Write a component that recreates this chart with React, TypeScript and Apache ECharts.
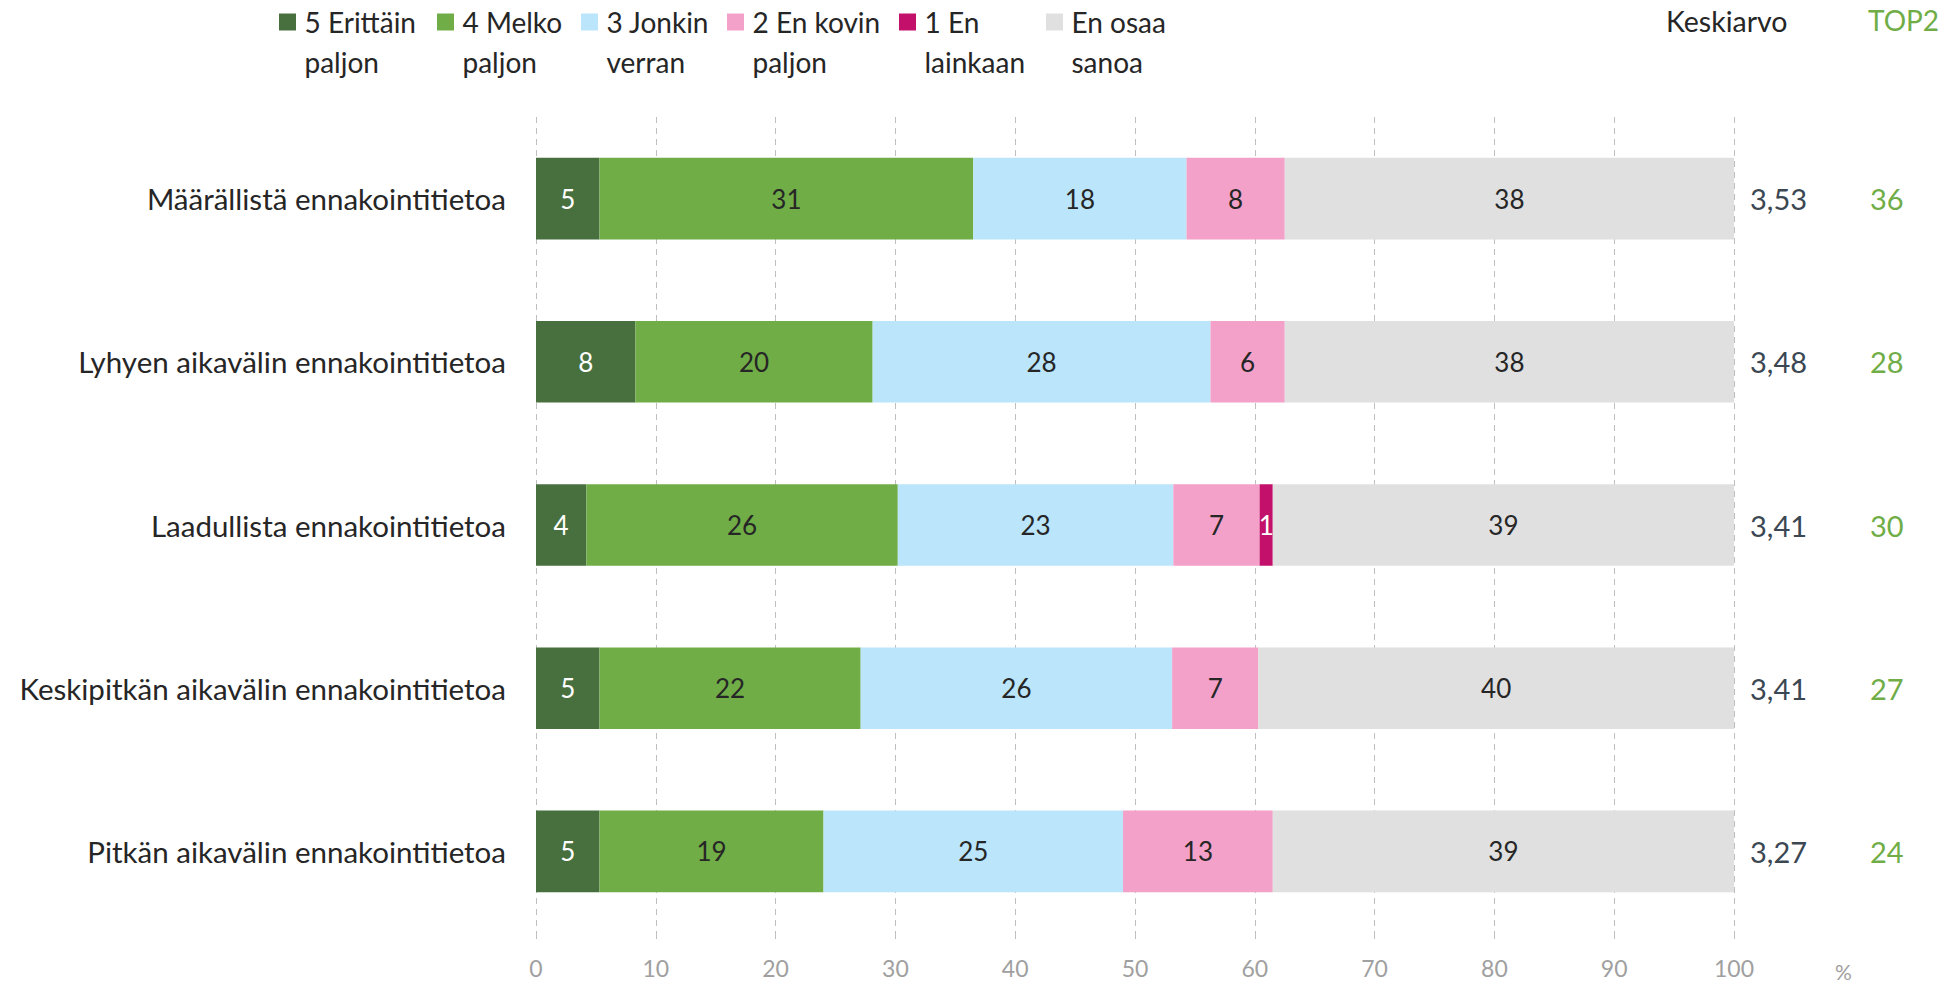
import React, { useEffect, useRef } from "react";
import * as echarts from "echarts";

const categories = [
  "Määrällistä ennakointitietoa",
  "Lyhyen aikavälin ennakointitietoa",
  "Laadullista ennakointitietoa",
  "Keskipitkän aikavälin ennakointitietoa",
  "Pitkän aikavälin ennakointitietoa",
];
const seriesNames = ["5 Erittäin paljon", "4 Melko paljon", "3 Jonkin verran", "2 En kovin paljon", "1 En lainkaan", "En osaa sanoa"];
const legendLines = [
  ["5 Erittäin", "paljon"],
  ["4 Melko", "paljon"],
  ["3 Jonkin", "verran"],
  ["2 En kovin", "paljon"],
  ["1 En", "lainkaan"],
  ["En osaa", "sanoa"],
];
const v5 = [5.3, 8.3, 4.2, 5.3, 5.3];
const v4 = [31.2, 19.8, 26.0, 21.8, 18.7];
const v3 = [17.8, 28.2, 23.0, 26.0, 25.0];
const v2 = [8.2, 6.2, 7.2, 7.2, 12.5];
const v1 = [0, 0, 1.1, 0, 0];
const vEos = [37.5, 37.5, 38.5, 39.7, 38.5];
const means = ["3,53", "3,48", "3,41", "3,41", "3,27"];
const top2 = ["36", "28", "30", "27", "24"];
const xTicks = [0, 10, 20, 30, 40, 50, 60, 70, 80, 90, 100];

const colors = ["#48703F", "#70AD47", "#BAE5FB", "#F3A1C8", "#C2106B", "#E0E0E0"];
const labelColors = ["#FFFFFF", "#262626", "#262626", "#262626", "#FFFFFF", "#262626"];
const legendLeft = [279, 437, 581, 727, 899, 1046];
const FONT = "Lato";

export default function App() {
  const ref = useRef<HTMLDivElement>(null);
  useEffect(() => {
    if (!ref.current) return;
    const chart = echarts.init(ref.current, undefined, { renderer: "svg" });
    const values = [v5, v4, v3, v2, v1, vEos];
    const series = values.map((vals, i) => ({
      name: seriesNames[i],
      type: "bar",
      stack: "total",
      barWidth: "50%",
      data: vals,
      itemStyle: { color: colors[i] },
      label: {
        show: true,
        position: "inside",
        color: labelColors[i],
        fontFamily: FONT,
        fontSize: 26,
        formatter: (p: any) => (p.value > 0 ? String(Math.round(p.value)) : ""),
      },
    }));
    const legends = seriesNames.map((n, i) => ({
      data: [n],
      left: legendLeft[i],
      top: -38,
      padding: 0,
      itemWidth: 17,
      itemHeight: 17,
      itemGap: 0,
      icon: "rect",
      selectedMode: false,
      formatter: () => "\n\u2009" + legendLines[i][0] + "\n\u2009" + legendLines[i][1],
      textStyle: { fontFamily: FONT, fontSize: 28, color: "#262626", lineHeight: 40 },
    }));
    chart.setOption({
      animation: false,
      textStyle: { fontFamily: FONT },
      legend: legends,
      grid: { left: 536, right: 212, top: 117, bottom: 58, containLabel: false },
      xAxis: {
        type: "value",
        min: 0,
        max: 100,
        interval: 10,
        axisLine: { show: false },
        axisTick: { show: true, length: 6, lineStyle: { color: "#BFBFBF" } },
        splitLine: { show: true, lineStyle: { color: "#BFBFBF", type: [6, 5], width: 1 } },
        axisLabel: { color: "#A0A0A0", fontSize: 23, fontFamily: FONT, margin: 23, formatter: (v: number) => (xTicks.includes(v) ? String(v) : "") },
      },
      yAxis: [
        {
          type: "category",
          data: categories,
          inverse: true,
          axisLine: { show: false },
          axisTick: { show: false },
          axisLabel: { color: "#262626", fontSize: 29.5, fontFamily: FONT, margin: 30 },
        },
        {
          type: "category",
          data: means,
          inverse: true,
          position: "right",
          axisLine: { show: false },
          axisTick: { show: false },
          axisLabel: { color: "#3B4752", fontSize: 29, fontFamily: FONT, margin: 16, align: "left" },
        },
        {
          type: "category",
          data: top2,
          inverse: true,
          position: "right",
          offset: 120,
          axisLine: { show: false },
          axisTick: { show: false },
          axisLabel: { color: "#70AD47", fontSize: 29, fontFamily: FONT, margin: 16, align: "left" },
        },
      ],
      graphic: [
        { type: "text", left: 1666, top: 6, style: { text: "Keskiarvo", fontSize: 28.5, fontFamily: FONT, fill: "#262626" } },
        { type: "text", left: 1868, top: 6, style: { text: "TOP2", fontSize: 28, fontFamily: FONT, fill: "#70AD47" } },
        { type: "text", left: 1835, top: 961, style: { text: "%", fontSize: 21, fontFamily: FONT, fill: "#A0A0A0" } },
      ],
      series,
    });
    return () => chart.dispose();
  }, []);
  return <div ref={ref} style={{ width: 1946, height: 991, margin: -8 }} />;
}
